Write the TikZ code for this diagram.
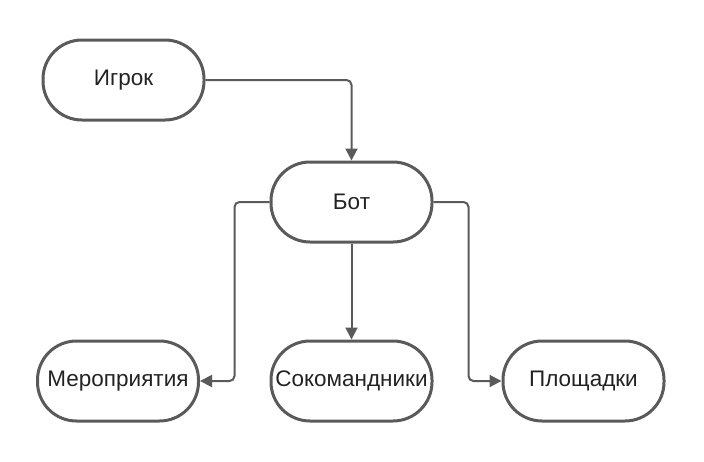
\documentclass[tikz,border=0pt]{standalone}
\usepackage{fontspec}
\setmainfont{Liberation Sans}
\usetikzlibrary{arrows.meta}
\definecolor{linegray}{HTML}{5A5A5A}
\definecolor{textgray}{HTML}{222222}
\begin{document}
\begin{tikzpicture}[x=1pt,y=-1pt,
  term/.style={draw=linegray, line width=3pt, rounded corners=39pt,
    minimum width=161pt, minimum height=80pt, inner sep=0pt,
    text=textgray, font=\fontsize{22.5}{27}\selectfont},
  link/.style={draw=linegray, line width=2pt, rounded corners=5pt,
    -{Triangle[length=12pt,width=12pt]}}]
\useasboundingbox (0,0) rectangle (704,461);
\node[term] (player) at (123.5,80) {Игрок};
\node[term] (bot) at (351.5,202) {Бот};
\node[term] (events) at (118,381) {Мероприятия};
\node[term] (mates) at (351.5,381) {Сокомандники};
\node[term] (grounds) at (583.5,381) {Площадки};
\draw[link] (player.east) -| (bot.north);
\draw[link] (bot.south) -- (mates.north);
\draw[link] (bot.west) -- ++(-35,0) |- (events.east);
\draw[link] (bot.east) -- ++(35,0) |- (grounds.west);
\end{tikzpicture}
\end{document}
